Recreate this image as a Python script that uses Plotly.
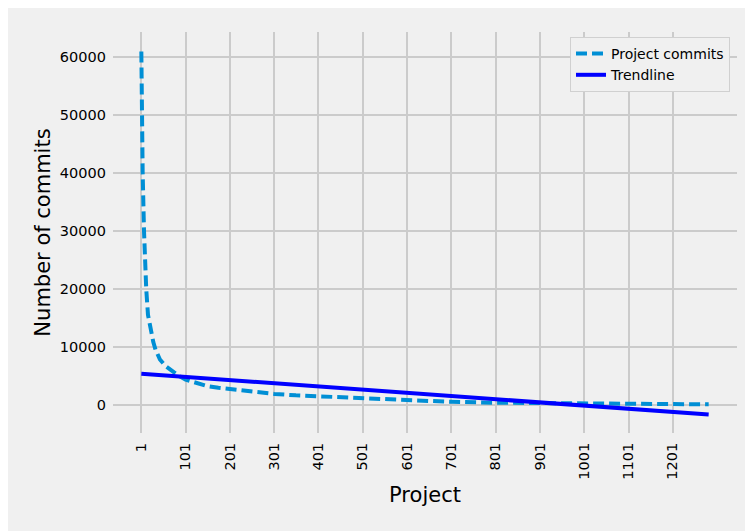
import plotly.graph_objects as go

# Data
project_ids = [1, 2, 4, 7, 9, 12, 16, 23, 28, 33, 43, 55, 71, 85, 101, 125, 150, 175,
               201, 250, 301, 350, 401, 450, 501, 601, 701, 801, 901, 1001, 1101, 1201, 1282]
project_commits = [61000, 52000, 40000, 30000, 24500, 20000, 15500, 12400, 10800, 9500, 7800,
                   6700, 5750, 5000, 4300, 3700, 3200, 2900, 2650, 2200, 1850, 1600, 1430,
                   1250, 1050, 750, 480, 330, 270, 220, 180, 120, 50]
trend_x = [1, 1282]
trend_y = [5340, -1720]

x_tickvals = [1, 101, 201, 301, 401, 501, 601, 701, 801, 901, 1001, 1101, 1201]
x_ticktext = [str(v) for v in x_tickvals]
y_tickvals = [0, 10000, 20000, 30000, 40000, 50000, 60000]
y_ticktext = [str(v) for v in y_tickvals]

FONT = "DejaVu Sans"
GRID = "#cbcbcb"
BG = "#f0f0f0"

fig = go.Figure()
fig.add_trace(go.Scatter(
    x=project_ids, y=project_commits, mode="lines", name="Project commits",
    line=dict(color="#008fd5", width=4, dash="11px,5px"),
))
fig.add_trace(go.Scatter(
    x=trend_x, y=trend_y, mode="lines", name="Trendline",
    line=dict(color="#0000ff", width=4),
))

# page has an 8px body margin, so the figure itself is 745x523
W, H = 745, 523
L, R, T, B = 105, 16, 24, 98
pw = W - L - R
ph = H - T - B

def px_x(p):
    return (p - L) / pw

def px_y(p):
    return (H - B - p) / ph

fig.update_layout(
    width=W, height=H,
    margin=dict(l=L, r=R, t=T, b=B),
    paper_bgcolor=BG, plot_bgcolor=BG,
    font=dict(family=FONT, size=14, color="#000000"),
    showlegend=True,
    legend=dict(
        x=px_x(722), y=px_y(29), xanchor="right", yanchor="top",
        bgcolor=BG, bordercolor="#d0d0d0", borderwidth=1,
        font=dict(family=FONT, size=14, color="#000000"),
        tracegroupgap=0,
    ),
    xaxis=dict(
        range=[-63, 1346], tickvals=x_tickvals, ticktext=x_ticktext,
        tickangle=-90, showgrid=True, gridcolor=GRID, gridwidth=1.8,
        zeroline=False, showline=False, ticks="", ticklabelstandoff=6,
        tickfont=dict(family=FONT, size=14.5),
        title=dict(text="Project", font=dict(family=FONT, size=21), standoff=8),
    ),
    yaxis=dict(
        range=[-4900, 64350], tickvals=y_tickvals, ticktext=y_ticktext,
        showgrid=True, gridcolor=GRID, gridwidth=1.8,
        zeroline=False, showline=False, ticks="", ticklabelstandoff=6,
        tickfont=dict(family=FONT, size=14.5),
        title=dict(text="Number of commits", font=dict(family=FONT, size=21), standoff=3),
    ),
)

fig.write_html("out.html")
